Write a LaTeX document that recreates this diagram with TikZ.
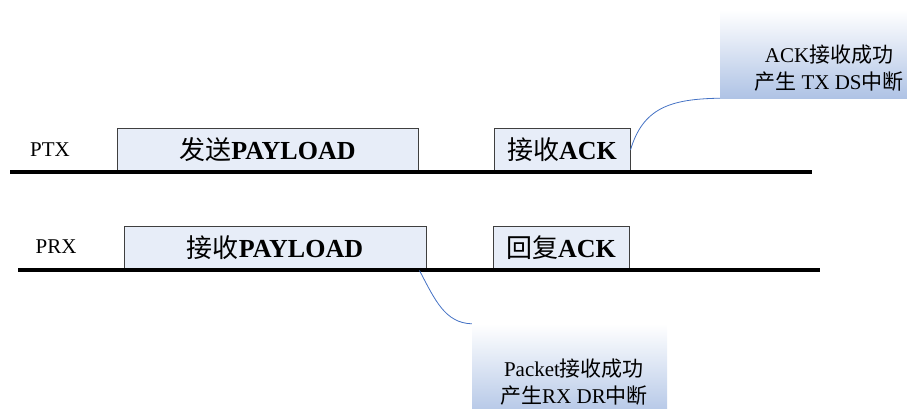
\documentclass[tikz,border=0pt]{standalone}
\usepackage{fontspec}
\setmainfont{Liberation Serif}
\newfontfamily\cjk{Noto Sans CJK SC}
\usepackage{tikz}
\usetikzlibrary{positioning}
\definecolor{slotfill}{HTML}{E7EDF8}
\definecolor{slotdraw}{HTML}{3F3F3F}
\definecolor{linkblue}{HTML}{4472C4}
\definecolor{noteblue}{HTML}{AFC3E5}

\begin{document}
\begin{tikzpicture}[x=1pt,y=-1pt,
  slot/.style={draw=slotdraw,fill=slotfill,line width=0.9pt,minimum height=44pt,
    inner sep=0pt,font=\fontsize{26}{30}\selectfont},
  sig label/.style={font=\fontsize{21}{25}\selectfont,inner sep=0pt},
  timeline/.style={line width=3.4pt},
  note box/.style={top color=white,bottom color=noteblue,inner sep=0pt},
  note text/.style={align=center,font=\fontsize{21}{27}\selectfont,inner sep=0pt},
  link/.style={draw=linkblue,line width=0.8pt}]
  \useasboundingbox (0,0) rectangle (907,408);

  % PTX
  \node[sig label] (ptx) at (50,150) {PTX};
  \node[slot,minimum width=301pt] (txpay) at (267.5,150) {{\cjk 发送}\textbf{PAYLOAD}};
  \node[slot,minimum width=136pt] (ackrx) at (562,150) {{\cjk 接收}\textbf{ACK}};
  \coordinate (ptxa) at (10,172);
  \coordinate (ptxb) at (812,172);
  \draw[timeline] (ptxa) -- (ptxb);

  % PRX
  \node[sig label] (prx) at (56,247) {PRX};
  \node[slot,minimum width=302pt] (rxpay) at (275,248) {{\cjk 接收}\textbf{PAYLOAD}};
  \node[slot,minimum width=136pt] (acktx) at (561,248) {{\cjk 回复}\textbf{ACK}};
  \coordinate (prxa) at (18,270);
  \coordinate (prxb) at (820,270);
  \draw[timeline] (prxa) -- (prxb);

  % notes
  \node[note box,minimum width=192pt,minimum height=88pt] (acknote) at (816,54) {};
  \node[note text] (acktext) at (829,68) {ACK{\cjk 接收成功}\\{\cjk 产生} TX DS{\cjk 中断}};
  \node[note box,minimum width=195pt,minimum height=96pt] (pktnote) at (569.5,372) {};
  \node[note text] (pkttext) at (574,382) {Packet{\cjk 接收成功}\\{\cjk 产生}RX DR{\cjk 中断}};

  \draw[link] (ackrx.east) .. controls (643,108) and (670,99) .. (acknote.south west);
  \draw[link] ([xshift=-7pt]rxpay.south east) .. controls (435,300) and (445,323) .. (pktnote.north west);
\end{tikzpicture}
\end{document}
